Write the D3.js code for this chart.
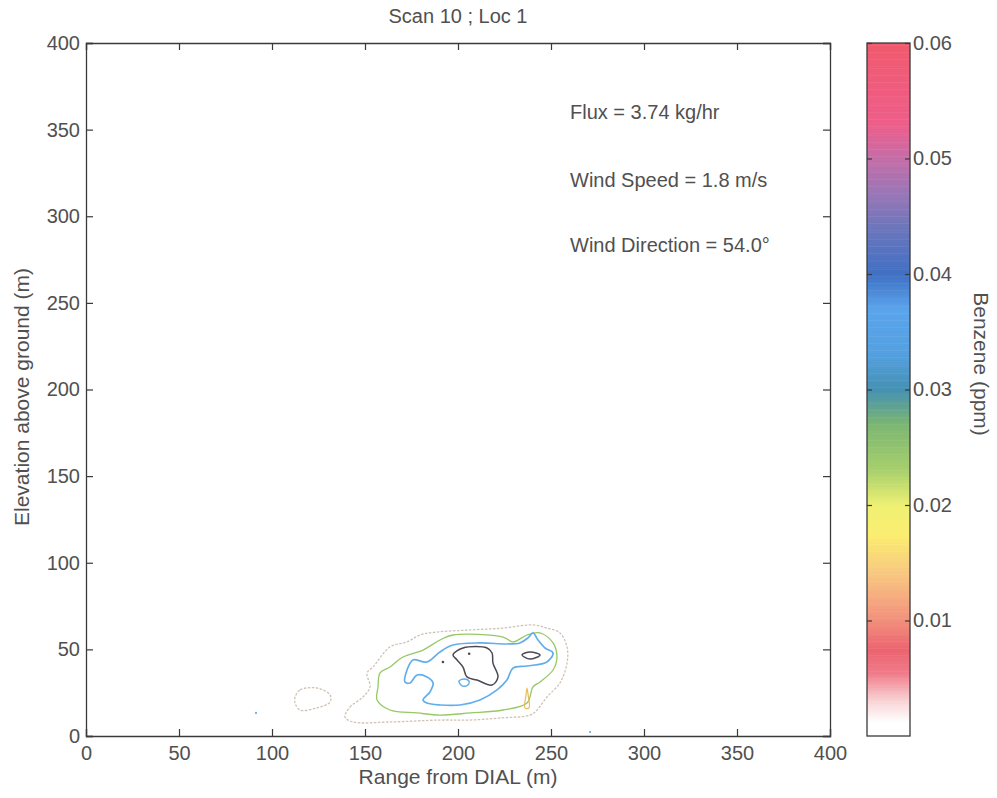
<!DOCTYPE html>
<html>
<head>
<meta charset="utf-8">
<script src="https://cdn.jsdelivr.net/npm/d3@7"></script>
<style>
  body { margin: 0; background: #fff; }
  text { font-family: "Liberation Sans", Arial, sans-serif; fill: #505050; }
</style>
</head>
<body>
<script>
// Chart size
const width = 997;
const height = 798;

// ---- data ----
const title = "Scan 10 ; Loc 1";
const xTicks = [0, 50, 100, 150, 200, 250, 300, 350, 400];
const yTicks = [0, 50, 100, 150, 200, 250, 300, 350, 400];
const cbTicks = [0.01, 0.02, 0.03, 0.04, 0.05, 0.06];
const notes = ["Flux = 3.74 kg/hr", "Wind Speed = 1.8 m/s", "Wind Direction = 54.0°"];

// colormap: concentration stops and their colours
const cmapStops = [0, 0.0012, 0.003, 0.0055, 0.0075, 0.0105, 0.014, 0.0175, 0.02, 0.023, 0.027, 0.03, 0.033, 0.037, 0.04, 0.044, 0.047, 0.05, 0.053, 0.06];
const cmapColors = ["#ffffff", "#ffffff", "#f9d6d8", "#f07a88", "#ec6470", "#f3967e", "#f8c680", "#fbee70", "#eef072", "#a8d06c", "#7cb672", "#4490b2", "#54a0e0", "#5aa4ec", "#4070c4", "#6c76bc", "#9a76b6", "#c46ea8", "#ee5e8a", "#f05a6e"];

// contour rings, [range (m), elevation (m)], one array per level
const ringOuter = [[139.2, 11.0], [141.9, 16.7], [148.9, 22.5], [152.7, 28.3], [151.1, 36.4], [154.3, 39.8], [163.4, 51.4], [172.6, 54.3], [179.6, 58.3], [188.7, 60.0], [206.5, 61.2], [224.2, 62.3], [240.3, 64.1], [247.8, 62.3], [254.8, 59.5], [258.6, 51.4], [258.6, 42.1], [254.8, 30.6], [247.8, 22.5], [242.5, 15.0], [238.7, 12.1], [222.6, 10.4], [206.5, 9.2], [190.3, 9.2], [163.4, 8.1], [143.5, 8.1]];
const ringIsland = [[112.4, 22.5], [115.1, 26.6], [124.2, 27.7], [131.2, 23.7], [131.2, 19.6], [124.2, 16.2], [115.1, 15.0], [112.4, 19.0]];
const ringGreen = [[156.5, 20.8], [157.0, 28.3], [158.1, 36.4], [163.4, 39.8], [170.4, 45.6], [181.2, 49.6], [190.3, 55.4], [197.3, 58.3], [224.2, 57.1], [229.6, 54.3], [237.1, 58.3], [244.1, 59.5], [251.1, 53.7], [253.2, 45.6], [251.1, 38.1], [244.1, 31.2], [240.3, 28.3], [237.1, 19.0], [224.2, 15.0], [206.5, 13.3], [190.3, 12.1], [178.0, 13.3], [163.4, 15.0]];
const ringSpike = [[236.0, 16.2], [236.6, 23.7], [237.1, 27.7], [237.7, 23.7], [238.2, 16.2]];
const ringBlue = [[190.3, 48.5], [197.3, 52.5], [211.8, 53.7], [226.3, 53.1], [233.3, 53.7], [237.6, 56.6], [240.3, 59.5], [243.0, 55.4], [246.8, 50.8], [251.1, 47.9], [247.8, 42.7], [237.1, 40.4], [229.6, 39.2], [226.3, 32.3], [221.0, 26.6], [211.8, 20.8], [201.1, 17.9], [190.3, 17.9], [183.3, 19.0], [181.2, 20.8], [184.9, 25.4], [186.6, 30.6], [183.3, 34.1], [178.0, 35.2], [174.2, 30.6], [171.5, 31.2], [172.6, 38.1], [175.8, 43.9], [183.3, 42.7]];
const ringBlueHole = [[200.5, 31.7], [203.2, 32.9], [205.9, 31.7], [205.4, 29.4], [202.2, 28.9]];
const ringDark = [[197.3, 46.8], [202.7, 50.8], [215.6, 50.8], [218.3, 47.9], [218.8, 42.1], [221.5, 34.1], [218.3, 29.4], [210.2, 32.3], [204.8, 34.1], [202.7, 39.8], [199.5, 43.9]];
const ringDarkSmall = [[234.4, 46.8], [238.7, 48.5], [244.1, 46.8], [238.7, 44.4]];
const darkDots = [[191.9, 42.7], [206.0, 47.5]];
const strayDots = [[91.4, 13.3], [271.0, 2.3]];

// ---- layout ----
const plot = { left: 86, right: 830, top: 43, bottom: 736 };
const cbar = { left: 867, right: 910, top: 43, bottom: 736 };

const svg = d3.select("body").append("svg")
    .attr("width", width)
    .attr("height", height);

const x = d3.scaleLinear().domain([0, 400]).range([plot.left, plot.right]);
const y = d3.scaleLinear().domain([0, 400]).range([plot.bottom, plot.top]);

// plot background
svg.append("rect")
    .attr("x", plot.left).attr("y", plot.top)
    .attr("width", plot.right - plot.left).attr("height", plot.bottom - plot.top)
    .attr("fill", "#fff");

// contour lines
const line = d3.line().x(d => x(d[0])).y(d => y(d[1])).curve(d3.curveCatmullRomClosed.alpha(0.5));
const contours = [
  { ring: ringOuter, color: "#cfc2b6", dash: "2.5,1.5", w: 1.3 },
  { ring: ringIsland, color: "#cfc2b6", dash: "2.5,1.5", w: 1.3 },
  { ring: ringGreen, color: "#96c866", dash: null, w: 1.3 },
  { ring: ringSpike, color: "#e8bc58", dash: null, w: 1.2 },
  { ring: ringBlue, color: "#62aeec", dash: null, w: 1.7 },
  { ring: ringBlueHole, color: "#62aeec", dash: null, w: 1.5 },
  { ring: ringDark, color: "#4e4852", dash: null, w: 1.5 },
  { ring: ringDarkSmall, color: "#4e4852", dash: null, w: 1.5 }
];
svg.append("g").selectAll("path")
    .data(contours)
    .enter().append("path")
    .attr("d", d => line(d.ring))
    .attr("fill", "none")
    .attr("stroke", d => d.color)
    .attr("stroke-width", d => d.w)
    .attr("stroke-dasharray", d => d.dash);

svg.append("g").selectAll("circle")
    .data(darkDots)
    .enter().append("circle")
    .attr("cx", d => x(d[0]))
    .attr("cy", d => y(d[1]))
    .attr("r", 1.3)
    .attr("fill", "#4e4852");

svg.append("g").selectAll("circle")
    .data(strayDots)
    .enter().append("circle")
    .attr("cx", d => x(d[0]))
    .attr("cy", d => y(d[1]))
    .attr("r", 1.1)
    .attr("fill", "#6aa8e8");

// axes, ticks pointing inward on all four sides
const gx = svg.append("g")
    .attr("transform", `translate(0,${plot.bottom})`)
    .call(d3.axisBottom(x).tickValues(xTicks).tickSize(-7).tickPadding(10).tickFormat(d3.format("d")));
const gy = svg.append("g")
    .attr("transform", `translate(${plot.left},0)`)
    .call(d3.axisLeft(y).tickValues(yTicks).tickSize(-7).tickPadding(6).tickFormat(d3.format("d")));
const gt = svg.append("g")
    .attr("transform", `translate(0,${plot.top})`)
    .call(d3.axisTop(x).tickValues(xTicks).tickSize(-7).tickFormat(""));
const gr = svg.append("g")
    .attr("transform", `translate(${plot.right},0)`)
    .call(d3.axisRight(y).tickValues(yTicks).tickSize(-7).tickFormat(""));

[gx, gy, gt, gr].forEach(g => {
  g.select(".domain").attr("stroke", "#3a3a3a").attr("stroke-width", 1.3);
  g.selectAll(".tick line").attr("stroke", "#3a3a3a").attr("stroke-width", 1.2);
  g.selectAll(".tick text").attr("font-size", "20px").attr("fill", "#505050")
      .attr("font-family", "'Liberation Sans', Arial, sans-serif");
});

// title and axis labels
svg.append("text")
    .attr("x", (plot.left + plot.right) / 2).attr("y", 23)
    .attr("text-anchor", "middle").attr("font-size", "20px")
    .text(title);

svg.append("text")
    .attr("x", (plot.left + plot.right) / 2).attr("y", 784)
    .attr("text-anchor", "middle").attr("font-size", "21px")
    .text("Range from DIAL (m)");

svg.append("text")
    .attr("transform", `translate(29,397) rotate(-90)`)
    .attr("text-anchor", "middle").attr("font-size", "21px")
    .text("Elevation above ground (m)");

// annotations
const noteY = [119, 187, 252];
svg.append("g").selectAll("text")
    .data(notes)
    .enter().append("text")
    .attr("x", 570)
    .attr("y", (d, i) => noteY[i])
    .attr("font-size", "20px")
    .text(d => d);

// ---- colorbar ----
const c = d3.scaleLinear().domain([0, 0.06]).range([cbar.bottom, cbar.top]);
const cmap = d3.scaleLinear().domain(cmapStops).range(cmapColors).interpolate(d3.interpolateRgb);
const step = 0.0002;
svg.append("g").selectAll("rect")
    .data(d3.range(0, 0.06, step))
    .enter().append("rect")
    .attr("x", cbar.left)
    .attr("width", cbar.right - cbar.left)
    .attr("y", d => c(d + step))
    .attr("height", d => c(d) - c(d + step) + 0.5)
    .attr("fill", d => cmap(d + step / 2));

svg.append("rect")
    .attr("x", cbar.left).attr("y", cbar.top)
    .attr("width", cbar.right - cbar.left).attr("height", cbar.bottom - cbar.top)
    .attr("fill", "none").attr("stroke", "#3a3a3a").attr("stroke-width", 1.3);

const gcb = svg.append("g")
    .attr("transform", `translate(${cbar.right},0)`)
    .call(d3.axisRight(c).tickValues(cbTicks).tickSize(-5).tickPadding(3).tickFormat(d3.format(".2f")));
const gcl = svg.append("g")
    .attr("transform", `translate(${cbar.left},0)`)
    .call(d3.axisLeft(c).tickValues(cbTicks).tickSize(-5).tickFormat(""));
[gcb, gcl].forEach(g => {
  g.select(".domain").remove();
  g.selectAll(".tick line").attr("stroke", "#3a3a3a").attr("stroke-width", 1.2);
  g.selectAll(".tick text").attr("font-size", "20px").attr("fill", "#505050")
      .attr("font-family", "'Liberation Sans', Arial, sans-serif");
});

svg.append("text")
    .attr("transform", `translate(974,364) rotate(90)`)
    .attr("text-anchor", "middle").attr("font-size", "21px")
    .text("Benzene (ppm)");
</script>
</body>
</html>
